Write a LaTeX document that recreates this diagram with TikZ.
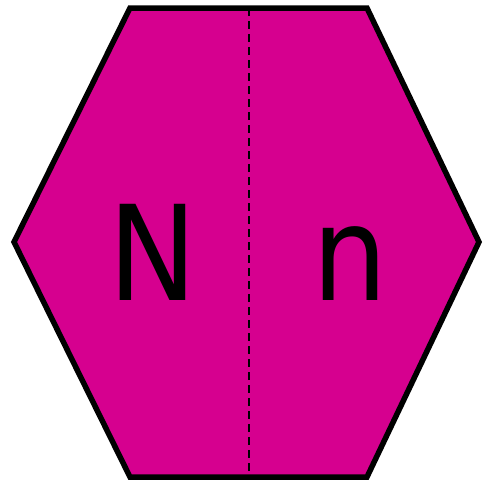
\documentclass[tikz,border=0pt]{standalone}
\usepackage{fontspec}
\setmainfont{DejaVu Sans}
\definecolor{hexMagenta}{RGB}{214,0,143}

\begin{document}
\begin{tikzpicture}[
  x=1pt, y=-1pt,
  hexface/.style={draw=black, line width=5.5pt, fill=hexMagenta, line join=miter},
  split/.style={draw=black, line width=2.6pt, dash pattern=on 8pt off 5pt},
  letter/.style={anchor=base, inner sep=0pt, xscale=0.9, font=\fontsize{132}{132}\selectfont}
]
  \useasboundingbox (0,0) rectangle (483,483);
  \path[hexface] (130,8) -- (367,8) -- (479,242) -- (367,477) -- (130,477) -- (14,242) -- cycle;
  \coordinate (top) at (249,8);
  \coordinate (bottom) at (249,477);
  \draw[split] (top) -- (bottom);
  \node[letter] (big) at (153,300) {N};
  \node[letter] (small) at (350,300) {n};
\end{tikzpicture}
\end{document}
